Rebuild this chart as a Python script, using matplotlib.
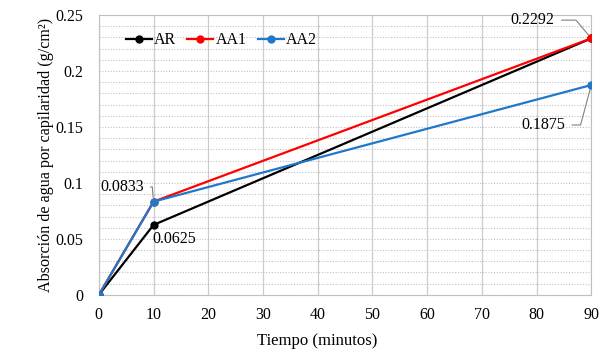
import numpy as np
import matplotlib as mpl
import matplotlib.pyplot as plt
from matplotlib.ticker import MultipleLocator

mpl.rcParams['font.family'] = ['Liberation Serif', 'DejaVu Serif']
mpl.rcParams['axes.formatter.use_mathtext'] = False

# %% data
tiempo = [0, 10, 90]
ar = [0, 0.0625, 0.2292]
aa1 = [0, 0.0833, 0.2292]
aa2 = [0, 0.0833, 0.1875]

# %% plot
fig = plt.figure(figsize=(6.14, 3.51), dpi=100)
ax = fig.add_axes([0.161, 0.16, 0.802, 0.797])

ax.plot(tiempo, ar, color='black', marker='o', ms=5, lw=1.6, label='AR', zorder=3)
ax.plot(tiempo, aa1, color='#ff0000', marker='o', ms=5, lw=1.6, label='AA1', zorder=3)
ax.plot(tiempo, aa2, color='#1f78c8', marker='o', ms=5, lw=1.6, label='AA2', zorder=4)

ax.set_xlim(0, 90)
ax.set_ylim(0, 0.25)
ax.xaxis.set_major_locator(MultipleLocator(10))
ax.yaxis.set_major_locator(MultipleLocator(0.05))
ax.yaxis.set_minor_locator(MultipleLocator(0.01))
ax.xaxis.set_major_formatter(mpl.ticker.FuncFormatter(lambda v, p: f'{v:g}'))
ax.yaxis.set_major_formatter(mpl.ticker.FuncFormatter(lambda v, p: '0' if v == 0 else f'{v:g}'))
ax.grid(True, axis='x', which='major', color='#cccccc', lw=0.9)
ax.grid(True, axis='y', which='both', color='#c0c0c0', lw=0.8, ls=(0, (1, 1.5)))
ax.set_axisbelow(True)
ax.tick_params(length=0, labelsize=11.5)
ax.tick_params(axis='y', pad=11)
ax.tick_params(axis='x', pad=9)
ax.tick_params(which='minor', length=0)
for s in ax.spines.values():
    s.set_color('#c0c0c0')

ax.set_xlabel('Tiempo (minutos)', fontsize=12, labelpad=4)
ax.xaxis.set_label_coords(0.443, -0.135)
ax.set_ylabel('Absorción de agua por capilaridad (g/cm²)', fontsize=11.6, labelpad=1)

ax.legend(loc='upper left', bbox_to_anchor=(0.025, 0.99), ncol=3, frameon=False,
          fontsize=11.5, handlelength=1.65, columnspacing=0.7, handletextpad=0.12)

ax.annotate('0.2292', xy=(90, 0.2292), xytext=(83.3, 0.2455), fontsize=11.5, va='center', ha='right',
            arrowprops=dict(arrowstyle='-', color='#808080', lw=0.8, shrinkA=3, shrinkB=3,
                            relpos=(1, 0.5), connectionstyle='angle,angleA=0,angleB=130,rad=0'))
ax.annotate('0.1875', xy=(90, 0.1875), xytext=(81.2, 0.1518), fontsize=11.5, va='center', ha='center',
            arrowprops=dict(arrowstyle='-', color='#808080', lw=0.8, shrinkA=3, shrinkB=3,
                            relpos=(1, 0.5), connectionstyle='angle,angleA=0,angleB=75,rad=0'))
ax.annotate('0.0833', xy=(10, 0.0833), xytext=(0.2, 0.0964), fontsize=11.5, va='center', ha='left',
            arrowprops=dict(arrowstyle='-', color='#808080', lw=0.8, shrinkA=3, shrinkB=3,
                            relpos=(1, 0.5), connectionstyle='angle,angleA=0,angleB=95,rad=0'))
ax.text(9.8, 0.0495, '0.0625', fontsize=11.5, va='center')

fig.savefig('out.png', dpi=100)
